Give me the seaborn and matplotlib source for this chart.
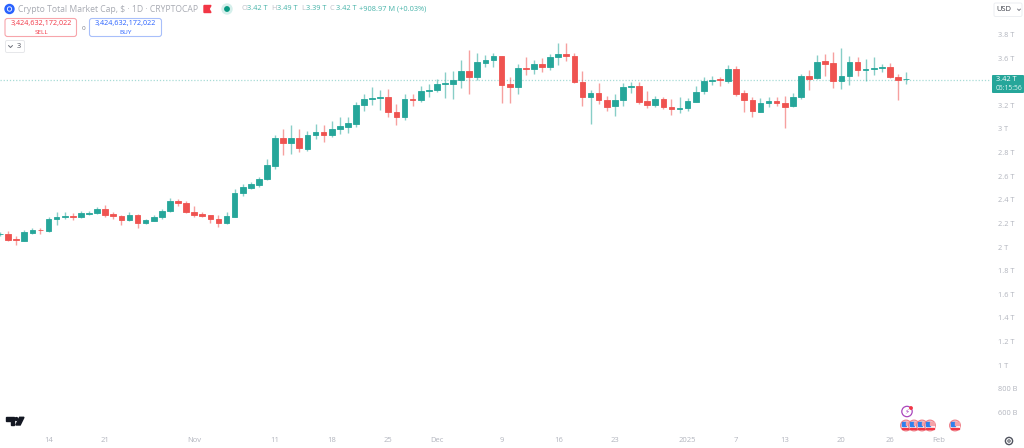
# Crypto total market cap, daily candles
import numpy as np
import pandas as pd
import matplotlib.pyplot as plt
import seaborn as sns
from matplotlib.patches import Circle, FancyBboxPatch, Polygon, Rectangle

# 1. Data (values in trillions of USD, one row per day from Oct 8)
opens = [2.106, 2.110, 2.068, 2.053, 2.121, 2.148, 2.136, 2.237, 2.252, 2.263,
         2.252, 2.282, 2.286, 2.325, 2.277, 2.265, 2.229, 2.274, 2.203, 2.220,
         2.252, 2.303, 2.390, 2.373, 2.297, 2.280, 2.269, 2.240, 2.201, 2.257,
         2.460, 2.500, 2.528, 2.574, 2.686, 2.924, 2.884, 2.924, 2.833, 2.947,
         2.975, 2.949, 2.997, 3.017, 3.045, 3.201, 3.252, 3.265, 3.269, 3.144,
         3.099, 3.254, 3.246, 3.319, 3.331, 3.384, 3.381, 3.415, 3.494, 3.443,
         3.562, 3.582, 3.616, 3.379, 3.353, 3.520, 3.506, 3.551, 3.523, 3.608,
         3.633, 3.619, 3.401, 3.269, 3.303, 3.248, 3.192, 3.246, 3.356, 3.364,
         3.235, 3.206, 3.252, 3.186, 3.167, 3.175, 3.231, 3.319, 3.404, 3.424,
         3.409, 3.506, 3.303, 3.248, 3.147, 3.220, 3.240, 3.220, 3.192, 3.271,
         3.452, 3.430, 3.574, 3.562, 3.409, 3.452, 3.565, 3.503, 3.506, 3.520,
         3.523, 3.443, 3.421]
highs = [2.130, 2.136, 2.093, 2.148, 2.161, 2.157, 2.250, 2.294, 2.294, 2.286,
         2.308, 2.308, 2.336, 2.353, 2.297, 2.274, 2.297, 2.277, 2.237, 2.269,
         2.319, 2.415, 2.407, 2.387, 2.347, 2.294, 2.274, 2.269, 2.297, 2.489,
         2.534, 2.553, 2.596, 2.743, 2.949, 2.997, 3.031, 2.997, 2.981, 3.042,
         3.031, 3.068, 3.099, 3.102, 3.231, 3.294, 3.353, 3.331, 3.342, 3.212,
         3.299, 3.299, 3.364, 3.381, 3.421, 3.486, 3.492, 3.585, 3.670, 3.642,
         3.627, 3.642, 3.619, 3.441, 3.548, 3.613, 3.585, 3.599, 3.633, 3.726,
         3.726, 3.642, 3.492, 3.328, 3.390, 3.282, 3.294, 3.392, 3.396, 3.396,
         3.319, 3.280, 3.269, 3.252, 3.274, 3.263, 3.364, 3.438, 3.449, 3.438,
         3.542, 3.534, 3.328, 3.271, 3.265, 3.271, 3.271, 3.277, 3.303, 3.466,
         3.497, 3.627, 3.636, 3.650, 3.684, 3.616, 3.610, 3.593, 3.613, 3.548,
         3.562, 3.464, 3.481]
lows = [2.093, 2.051, 2.017, 2.047, 2.114, 2.110, 2.123, 2.189, 2.237, 2.229,
        2.246, 2.274, 2.280, 2.257, 2.240, 2.189, 2.223, 2.164, 2.195, 2.218,
        2.235, 2.299, 2.347, 2.291, 2.252, 2.257, 2.201, 2.172, 2.195, 2.254,
        2.435, 2.489, 2.511, 2.568, 2.664, 2.782, 2.791, 2.808, 2.811, 2.915,
        2.892, 2.930, 2.958, 2.969, 3.019, 3.155, 3.203, 3.161, 3.104, 3.031,
        3.076, 3.195, 3.229, 3.274, 3.314, 3.260, 3.254, 3.350, 3.294, 3.415,
        3.525, 3.525, 3.218, 3.218, 3.299, 3.458, 3.469, 3.483, 3.497, 3.542,
        3.579, 3.387, 3.197, 3.040, 3.214, 3.153, 3.113, 3.199, 3.308, 3.212,
        3.175, 3.189, 3.167, 3.119, 3.133, 3.155, 3.226, 3.297, 3.373, 3.364,
        3.387, 3.282, 3.142, 3.104, 3.142, 3.186, 3.195, 3.011, 3.189, 3.257,
        3.331, 3.424, 3.447, 3.345, 3.339, 3.373, 3.452, 3.409, 3.458, 3.486,
        3.435, 3.246, 3.381]
closes = [2.114, 2.059, 2.062, 2.127, 2.148, 2.140, 2.240, 2.254, 2.263, 2.252,
          2.288, 2.291, 2.325, 2.271, 2.265, 2.229, 2.274, 2.201, 2.226, 2.254,
          2.305, 2.387, 2.373, 2.297, 2.274, 2.265, 2.237, 2.201, 2.260, 2.460,
          2.506, 2.534, 2.576, 2.692, 2.924, 2.884, 2.924, 2.836, 2.949, 2.975,
          2.947, 3.000, 3.023, 3.051, 3.203, 3.252, 3.265, 3.271, 3.142, 3.099,
          3.252, 3.246, 3.322, 3.333, 3.381, 3.387, 3.415, 3.494, 3.443, 3.565,
          3.585, 3.616, 3.375, 3.353, 3.520, 3.506, 3.548, 3.523, 3.608, 3.633,
          3.616, 3.396, 3.269, 3.303, 3.248, 3.189, 3.243, 3.356, 3.364, 3.231,
          3.206, 3.252, 3.184, 3.167, 3.175, 3.240, 3.316, 3.407, 3.413, 3.415,
          3.506, 3.299, 3.243, 3.153, 3.220, 3.240, 3.220, 3.189, 3.271, 3.452,
          3.424, 3.568, 3.553, 3.409, 3.452, 3.565, 3.503, 3.508, 3.520, 3.525,
          3.438, 3.415, 3.424]

price_ticks = [3.8, 3.6, 3.2, 3.0, 2.8, 2.6, 2.4, 2.2, 2.0, 1.8, 1.6, 1.4, 1.2, 1.0, 0.8, 0.6]
price_labels = ["3.8 T", "3.6 T", "3.2 T", "3 T", "2.8 T", "2.6 T", "2.4 T", "2.2 T", "2 T",
                "1.8 T", "1.6 T", "1.4 T", "1.2 T", "1 T", "800 B", "600 B"]
date_ticks = [6, 13, 24, 34, 41, 48, 54, 62, 69, 76, 85, 91, 97, 104, 110, 116]
date_labels = ["14", "21", "Nov", "11", "18", "25", "Dec", "9", "16", "23", "2025",
               "7", "13", "20", "26", "Feb"]
last_price = 3.415

UP = "#26a69a"
DOWN = "#ef5350"
GREY = "#b2b5be"

df = pd.DataFrame({"open": opens, "high": highs, "low": lows, "close": closes})
df["day"] = df.index
df["body"] = (df["close"] - df["open"]).abs()
df["bottom"] = df[["open", "close"]].min(axis=1)
up = df[df["close"] >= df["open"]]
down = df[df["close"] < df["open"]]

# 2. Figure
sns.set_theme(style="white")
plt.rcParams["font.family"] = ["Open Sans", "DejaVu Sans"]

fig = plt.figure(figsize=(10.24, 4.48), dpi=100)
ax = fig.add_axes([0, 17 / 448, 990 / 1024, 431 / 448])

ax.vlines(up["day"], up["low"], up["high"], color=UP, lw=1, alpha=0.55, zorder=1)
ax.vlines(down["day"], down["low"], down["high"], color=DOWN, lw=1, alpha=0.55, zorder=1)

for part, colour in [(up, UP), (down, DOWN)]:
    sns.barplot(x=part["day"].values, y=part["body"].values, bottom=part["bottom"].values,
                native_scale=True, color=colour, saturation=1, width=0.7, errorbar=None,
                linewidth=0.6, edgecolor=colour, ax=ax, zorder=2)

ax.axhline(last_price, color=UP, lw=0.9, ls=(0, (1, 1.5)), alpha=0.4, zorder=0)

ax.set_xlim(0, 990 / 8.09)
ax.set_ylim(3 - 302 / 118, 3 + 129 / 118)
ax.yaxis.tick_right()
ax.set_yticks(price_ticks)
ax.set_yticklabels(price_labels, ha="left")
ax.set_xticks(date_ticks)
ax.set_xticklabels(date_labels)
ax.tick_params(axis="y", length=0, pad=6, labelsize=5.3, labelcolor="#b2b5be")
ax.tick_params(axis="x", length=0, pad=4, labelsize=5.5, labelcolor="#b2b5be")
ax.set_xlabel("")
ax.set_ylabel("")
sns.despine(ax=ax, left=True, bottom=True, right=True, top=True)

# 3. Overlay in pixel coordinates for the header, price tag and icons
ui = fig.add_axes([0, 0, 1, 1], zorder=5)
ui.set_xlim(0, 1024)
ui.set_ylim(448, 0)
ui.axis("off")

ui.add_patch(Circle((9.5, 9), 4.5, color="#2962ff"))
ui.add_patch(Circle((9.5, 9), 2.2, fill=False, ec="white", lw=0.6))
ui.text(18, 9, "Crypto Total Market Cap, $ · 1D · CRYPTOCAP", fontsize=6.2, color="#a8abb3", va="center")
ui.add_patch(Polygon([(204, 5.5), (211, 5.5), (209, 9), (211, 12.5), (204, 12.5)], color="#f23645"))
ui.add_patch(Circle((227, 9), 5, color="#d5efeb"))
ui.add_patch(Circle((227, 9), 2.2, color="#089981"))

for x_pos, txt, colour in [(241, "O", GREY), (247, "3.42 T", UP), (271, "H", GREY), (277, "3.49 T", UP),
                           (301, "L", GREY), (306, "3.39 T", UP), (330, "C", GREY), (336, "3.42 T", UP),
                           (359, "+908.97 M (+0.03%)", UP)]:
    ui.text(x_pos, 9, txt, fontsize=5.3, color=colour, alpha=0.85, va="center")

ui.add_patch(FancyBboxPatch((5, 18.5), 71.5, 18, boxstyle="round,pad=0,rounding_size=2.5", fc="white", ec="#f7a5ab", lw=0.8))
ui.text(41, 24, "3,424,632,172,022", fontsize=5.2, color="#f23645", ha="center", va="center")
ui.text(41, 32.5, "SELL", fontsize=4.6, color="#f23645", ha="center", va="center")
ui.text(83, 28, "0", fontsize=4.6, color="#787b86", ha="center", va="center")
ui.add_patch(FancyBboxPatch((89.5, 18.5), 72, 18, boxstyle="round,pad=0,rounding_size=2.5", fc="white", ec="#a8bffa", lw=0.8))
ui.text(125.5, 24, "3,424,632,172,022", fontsize=5.2, color="#2962ff", ha="center", va="center")
ui.text(125.5, 32.5, "BUY", fontsize=4.6, color="#2962ff", ha="center", va="center")
ui.add_patch(FancyBboxPatch((5.5, 40.5), 19, 12, boxstyle="round,pad=0,rounding_size=1.5", fc="white", ec="#e6e7ea", lw=0.7))
ui.plot([8.5, 10.5, 12.5], [45.5, 47.5, 45.5], color="#6a6d78", lw=0.7)
ui.text(18.5, 46.5, "3", fontsize=5.4, color="#50535e", ha="center", va="center")

ui.add_patch(FancyBboxPatch((994, 3), 28, 13.5, boxstyle="round,pad=0,rounding_size=1.5", fc="white", ec="#eceef1", lw=0.7))
ui.text(996, 9.8, "USD", fontsize=5.4, color="#3a3d47", va="center")
ui.plot([1017.5, 1019, 1020.5], [9, 10.5, 9], color="#6a6d78", lw=0.6)

ui.add_patch(FancyBboxPatch((992, 75), 32, 18, boxstyle="round,pad=0,rounding_size=1", fc=UP, ec="none"))
ui.text(996, 79.8, "3.42 T", fontsize=5.3, color="white", va="center")
ui.text(996, 88, "05:15:56", fontsize=4.9, color="#e3f5f2", va="center")

# TradingView mark
ui.add_patch(Polygon([(6, 417.3), (14, 417.3), (14, 425), (10.5, 425), (10.5, 420.8), (6, 420.8)], color="#131722"))
ui.add_patch(Circle((16.4, 419), 1.4, color="#131722"))
ui.add_patch(Polygon([(19.6, 417.3), (24, 417.3), (20.2, 425), (15.8, 425)], color="#131722"))

# Event markers
ui.add_patch(Circle((907, 411.5), 5.2, fc="white", ec="#ab47bc", lw=0.9))
ui.text(907, 411.5, "⚡", fontsize=5, color="#ab47bc", ha="center", va="center", family="DejaVu Sans")
ui.add_patch(Circle((911, 408), 1.2, color="#f23645"))
for x_pos in [906, 914, 922, 930, 955]:
    ui.add_patch(Circle((x_pos, 425.5), 5.4, fc="#f7c6c9", ec="#ef7f88", lw=0.8))
    ui.add_patch(Rectangle((x_pos - 4, 426), 8, 1.1, color="white"))
    ui.add_patch(Rectangle((x_pos - 3.8, 428), 7.6, 1, color="#f23645"))
    ui.add_patch(Rectangle((x_pos - 3.8, 421.8), 4, 4, color="#2f80ed"))
    ui.add_patch(Rectangle((x_pos + 0.2, 422.5), 3.6, 2.8, color="#f5a3a9"))

# Settings icon
ui.add_patch(Circle((1009, 441), 3.6, fc="white", ec="#50535e", lw=1))
ui.add_patch(Circle((1009, 441), 1.2, fc="white", ec="#50535e", lw=0.7))

fig.savefig("out.png", dpi=100)
